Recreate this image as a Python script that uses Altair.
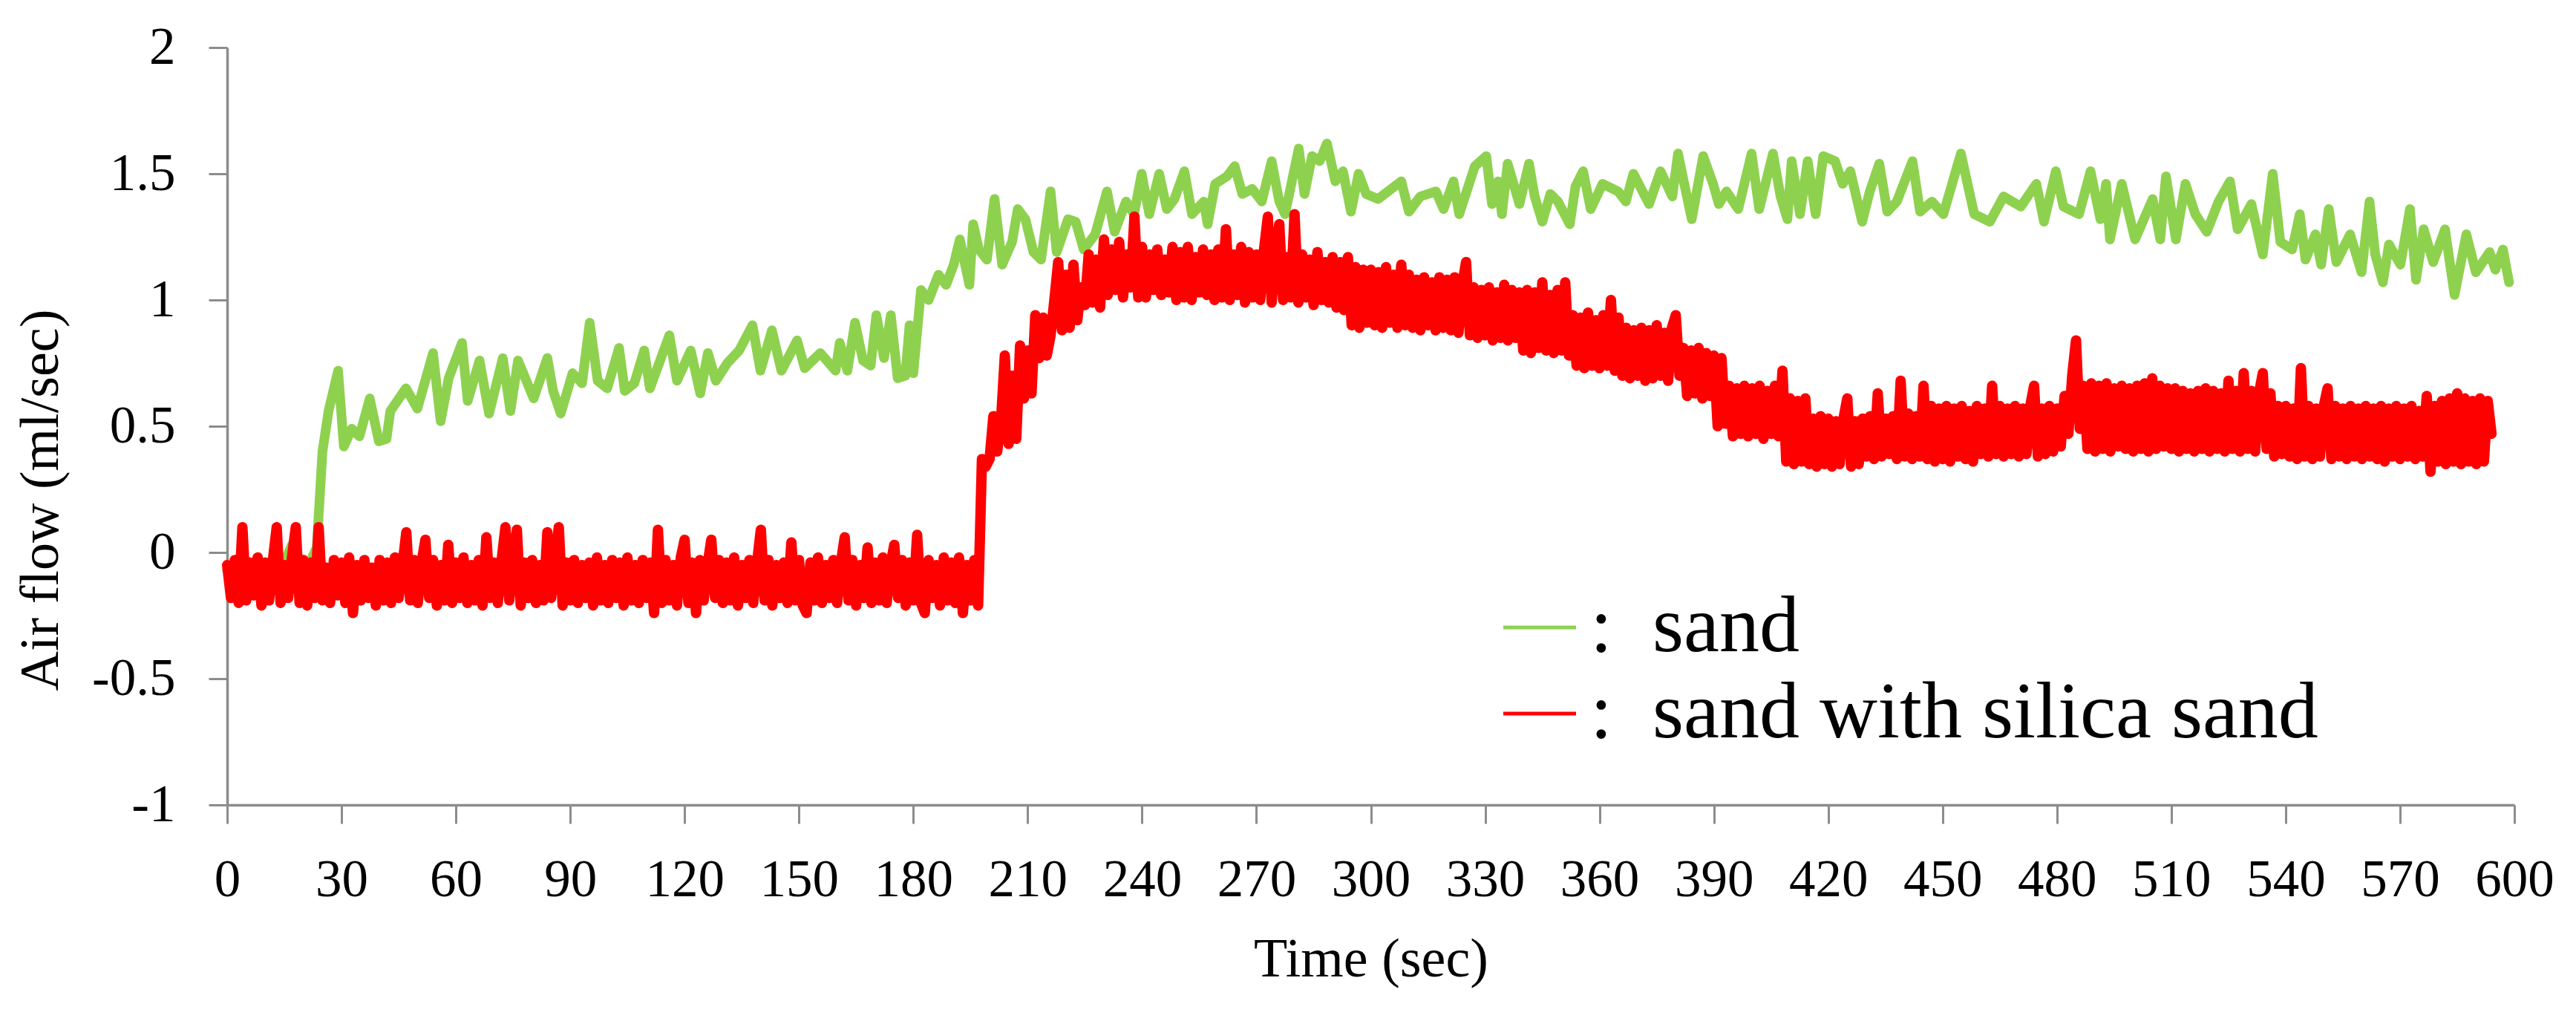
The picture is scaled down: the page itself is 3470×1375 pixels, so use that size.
import altair as alt
import pandas as pd

# ---------------- data ----------------
series_names = ["sand", "sand with silica sand"]
series_colors = ["#8ED14F", "#FF0000"]

x_ticks = [0, 30, 60, 90, 120, 150, 180, 210, 240, 270, 300, 330, 360, 390, 420, 450, 480, 510, 540, 570, 600]
y_ticks = [-1, -0.5, 0, 0.5, 1, 1.5, 2]

# "sand" (green) : time (sec) and air flow (ml/sec)
green_time = [
    0, 4, 8, 12, 15, 17, 19, 22, 23.5, 25.0, 26.6, 29.1, 30.6, 32.7, 34.7, 37.4, 39.8, 41.8, 42.8, 46.9,
    49.9, 54.0, 56.0, 58.1, 61.6, 63.1, 66.2, 68.7, 72.3, 74.3, 76.3, 80.4, 84.0, 85.5, 87.5, 90.6, 93.1, 95.1, 97.2, 99.7,
    102.8, 104.3, 106.8, 109.4, 110.9, 116.0, 118.0, 121.6, 124.1, 126.1, 128.2, 131.2, 134.3, 137.8, 139.9, 142.9, 145.4, 149.5, 151.5, 155.6,
    159.6, 160.7, 162.7, 164.7, 166.8, 168.8, 170.3, 172.3, 174.1, 175.9, 177.9, 179.0, 180.0, 182.0, 184.0, 186.6, 188.6, 190.6, 192.2, 194.7,
    195.7, 197.2, 199.3, 201.3, 203.3, 205.9, 207.4, 209.4, 211.5, 213.5, 216.0, 217.6, 220.6, 222.6, 224.7, 227.7, 230.8, 232.8, 235.8, 237.9,
    239.9, 241.9, 244.5, 246.5, 248.5, 251.1, 253.1, 256.2, 257.2, 259.2, 262.3, 264.3, 266.3, 268.9, 271.4, 274.0, 276.0, 277.5, 281.1, 282.6,
    284.6, 286.6, 288.5, 290.7, 292.7, 294.8, 296.8, 298.8, 301.9, 308.0, 310.0, 313.0, 317.1, 319.1, 321.7, 323.2, 327.3, 330.3, 331.8, 333.4,
    334.4, 335.9, 339.0, 341.5, 343.0, 345.0, 347.1, 349.1, 352.2, 353.7, 355.7, 357.7, 360.8, 364.9, 366.9, 368.9, 373.0, 376.0, 379.1, 380.6,
    382.1, 384.2, 387.2, 389.8, 391.3, 393.3, 396.4, 399.9, 401.9, 405.5, 407.5, 409.3, 410.4, 412.6, 414.6, 416.7, 418.7, 421.8, 423.8, 425.8,
    428.9, 430.9, 433.4, 435.5, 438.0, 442.1, 444.1, 447.2, 450.2, 454.8, 458.3, 462.4, 466.0, 470.5, 474.6, 476.6, 479.7, 481.7, 485.8, 488.8,
    491.4, 492.9, 493.9, 497.0, 500.5, 505.1, 507.1, 508.6, 511.2, 513.7, 516.3, 519.3, 522.4, 525.4, 527.4, 531.0, 534.0, 536.6, 538.6, 541.7,
    543.7, 545.2, 547.8, 549.3, 551.3, 553.3, 556.9, 559.9, 562.0, 563.5, 565.5, 567.1, 570.1, 572.6, 574.2, 576.2, 578.7, 581.8, 584.3, 587.4,
    589.9, 593.5, 595.0, 597.0, 598.6,
]
green_flow = [
    -0.07, -0.09, -0.06, -0.08, -0.04, 0.03, -0.05, -0.03, 0.02, 0.40, 0.56, 0.72, 0.42, 0.49, 0.46, 0.61, 0.44, 0.45, 0.56, 0.65,
    0.57, 0.79, 0.52, 0.69, 0.83, 0.60, 0.76, 0.55, 0.77, 0.56, 0.76, 0.61, 0.77, 0.64, 0.55, 0.71, 0.67, 0.91, 0.68, 0.65,
    0.81, 0.64, 0.67, 0.80, 0.65, 0.86, 0.68, 0.80, 0.63, 0.79, 0.68, 0.75, 0.80, 0.90, 0.72, 0.88, 0.72, 0.84, 0.73, 0.79,
    0.72, 0.83, 0.72, 0.91, 0.76, 0.74, 0.94, 0.77, 0.94, 0.69, 0.70, 0.90, 0.71, 1.04, 1.00, 1.10, 1.06, 1.14, 1.24, 1.06,
    1.30, 1.20, 1.16, 1.40, 1.14, 1.23, 1.36, 1.32, 1.19, 1.16, 1.43, 1.19, 1.32, 1.31, 1.20, 1.26, 1.43, 1.27, 1.39, 1.34,
    1.50, 1.34, 1.50, 1.36, 1.40, 1.51, 1.34, 1.39, 1.30, 1.46, 1.49, 1.53, 1.42, 1.44, 1.39, 1.55, 1.39, 1.34, 1.60, 1.42,
    1.57, 1.55, 1.62, 1.47, 1.51, 1.35, 1.50, 1.42, 1.40, 1.47, 1.35, 1.41, 1.43, 1.36, 1.47, 1.34, 1.53, 1.57, 1.38, 1.47,
    1.34, 1.54, 1.38, 1.54, 1.41, 1.31, 1.42, 1.39, 1.30, 1.45, 1.51, 1.36, 1.46, 1.43, 1.39, 1.50, 1.38, 1.51, 1.41, 1.58,
    1.47, 1.32, 1.57, 1.46, 1.38, 1.43, 1.36, 1.58, 1.36, 1.58, 1.41, 1.32, 1.55, 1.34, 1.55, 1.34, 1.57, 1.55, 1.46, 1.51,
    1.31, 1.43, 1.54, 1.35, 1.39, 1.55, 1.35, 1.39, 1.34, 1.58, 1.34, 1.31, 1.41, 1.37, 1.46, 1.31, 1.51, 1.37, 1.34, 1.51,
    1.32, 1.46, 1.24, 1.46, 1.24, 1.40, 1.24, 1.49, 1.24, 1.46, 1.34, 1.27, 1.39, 1.47, 1.28, 1.38, 1.18, 1.50, 1.23, 1.20,
    1.34, 1.16, 1.26, 1.14, 1.36, 1.15, 1.26, 1.11, 1.39, 1.18, 1.07, 1.22, 1.14, 1.36, 1.08, 1.28, 1.15, 1.28, 1.02, 1.26,
    1.11, 1.19, 1.12, 1.20, 1.07,
]

# "sand with silica sand" (red): air flow x100, one value per second,
# each inner list covers 10 seconds (t = 10*k ... 10*k+9)
red_flow_x100 = [
    [-5, -18, -3, -20, 10, -19, -4, -17, -2, -21],
    [-4, -19, -3, 10, -20, -5, -18, -2, 10, -20],
    [-3, -21, -4, -18, 10, -19, -6, -20, -3, -17],
    [-4, -20, -2, -24, -5, -19, -3, -18, -6, -21],
    [-3, -19, -4, -20, -2, -18, -5, 8, -19, -3],
    [-20, -4, 5, -18, -3, -21, -5, -19, 3, -20],
    [-4, -18, -2, -20, -5, -19, -3, -21, 6, -18],
    [-4, -20, -3, 10, -19, -2, 9, -21, -4, -18],
    [-3, -20, -5, -19, 8, -18, -3, 10, -21, -4],
    [-19, -3, -20, -5, -18, -4, -21, -2, -19, -5],
    [-20, -3, -18, -4, -21, -2, -19, -5, -20, -3],
    [-18, -4, -24, 9, -20, -3, -19, -5, -21, -2],
    [5, -20, -4, -24, -3, -19, -5, 5, -18, -3],
    [-20, -4, -19, -2, -21, -5, -18, -3, -20, -4],
    [9, -19, -3, -21, -5, -18, -4, -20, 4, -19],
    [-3, -21, -24, -4, -19, -2, -20, -5, -18, -3],
    [-20, -4, 6, -19, -3, -21, -5, -18, 2, -20],
    [-4, -19, -2, -20, -5, 3, -18, -3, -21, -4],
    [-19, 7, -20, -24, -3, -18, -5, -21, -2, -19],
    [-4, -20, -2, -24, -5, -19, -3, -21, 37, 34],
    [37, 54, 40, 52, 78, 43, 70, 45, 82, 61],
    [80, 63, 94, 77, 93, 78, 86, 100, 115, 88],
    [110, 89, 114, 92, 105, 98, 118, 99, 116, 97],
    [124, 102, 120, 104, 123, 101, 118, 105, 133, 101],
    [121, 101, 118, 104, 120, 102, 116, 103, 121, 100],
    [119, 101, 121, 100, 117, 103, 120, 102, 118, 100],
    [120, 101, 128, 100, 118, 102, 121, 99, 119, 101],
    [118, 100, 120, 133, 99, 119, 130, 100, 117, 101],
    [134, 99, 118, 101, 116, 98, 119, 100, 115, 99],
    [117, 97, 115, 96, 117, 90, 113, 89, 112, 91],
    [112, 90, 111, 89, 113, 91, 110, 89, 114, 90],
    [110, 89, 108, 88, 109, 90, 107, 88, 109, 89],
    [108, 88, 109, 87, 106, 115, 86, 105, 85, 104],
    [86, 105, 84, 103, 85, 106, 84, 104, 85, 103],
    [80, 104, 79, 103, 81, 107, 80, 102, 79, 104],
    [80, 107, 78, 94, 74, 93, 73, 95, 74, 92],
    [73, 94, 74, 100, 72, 93, 70, 89, 69, 88],
    [70, 89, 68, 88, 69, 90, 70, 87, 68, 89],
    [94, 70, 81, 62, 80, 63, 81, 61, 79, 62],
    [78, 50, 77, 51, 66, 46, 65, 47, 66, 46],
    [65, 47, 66, 45, 64, 47, 66, 46, 72, 36],
    [61, 35, 60, 36, 61, 35, 53, 34, 54, 35],
    [53, 34, 52, 35, 53, 61, 34, 52, 35, 53],
    [38, 54, 37, 63, 38, 53, 39, 54, 37, 68],
    [38, 55, 37, 54, 38, 66, 37, 58, 36, 57],
    [37, 58, 36, 57, 38, 58, 37, 56, 36, 58],
    [39, 57, 38, 66, 39, 58, 38, 57, 39, 58],
    [38, 57, 39, 58, 66, 38, 57, 39, 58, 40],
    [57, 42, 62, 47, 70, 84, 49, 66, 41, 67],
    [40, 66, 41, 67, 40, 65, 42, 66, 41, 65],
    [40, 66, 41, 67, 40, 69, 41, 66, 42, 65],
    [41, 65, 40, 64, 41, 63, 40, 64, 41, 65],
    [40, 64, 41, 63, 40, 68, 41, 64, 40, 71],
    [41, 64, 40, 63, 71, 41, 63, 38, 58, 39],
    [58, 38, 57, 37, 73, 38, 58, 37, 57, 38],
    [58, 65, 37, 58, 38, 57, 37, 58, 38, 57],
    [37, 58, 38, 57, 37, 58, 36, 57, 38, 58],
    [37, 57, 38, 58, 37, 56, 38, 62, 32, 58],
    [36, 60, 35, 61, 36, 63, 35, 61, 36, 60],
    [35, 61, 36, 60, 47],
]

# ---------------- tables ----------------
green_df = pd.DataFrame({"time": green_time, "flow": green_flow, "series": series_names[0]})

red_rows = []
for k, chunk in enumerate(red_flow_x100):
    for i, v in enumerate(chunk):
        red_rows.append({"time": 10 * k + i, "flow": v / 100.0, "series": series_names[1]})
red_df = pd.DataFrame(red_rows)

# ---------------- chart ----------------
FONT = "Liberation Serif"
AXIS_GRAY = "#8c8c8c"

x_enc = alt.X(
    "time:Q",
    scale=alt.Scale(domain=[0, 600], nice=False, zero=False),
    axis=alt.Axis(
        values=x_ticks, format="d", title="Time (sec)",
        grid=False, labelFlush=False, labelOverlap=False,
        domainColor=AXIS_GRAY, domainWidth=3.5,
        tickColor=AXIS_GRAY, tickWidth=3, tickSize=25,
        labelFont=FONT, labelFontSize=71, labelColor="black", labelPadding=41,
        titleFont=FONT, titleFontSize=74, titleFontWeight="normal", titleColor="black",
        titleY=208, titleBaseline="middle",
    ),
)
y_enc = alt.Y(
    "flow:Q",
    scale=alt.Scale(domain=[-1, 2], nice=False, zero=False),
    axis=alt.Axis(
        values=y_ticks, labelExpr="'' + datum.value", title="Air flow (ml/sec)",
        grid=False, labelFlush=False, labelOverlap=False,
        domainColor=AXIS_GRAY, domainWidth=3.5,
        tickColor=AXIS_GRAY, tickWidth=3, tickSize=25,
        labelFont=FONT, labelFontSize=71, labelColor="black", labelPadding=45,
        titleFont=FONT, titleFontSize=74, titleFontWeight="normal", titleColor="black",
        titleX=-251, titleY=609, titleBaseline="middle",
    ),
)
color_enc = alt.Color(
    "series:N",
    scale=alt.Scale(domain=series_names, range=series_colors),
    legend=alt.Legend(
        title=None, orient="none", legendX=1714, legendY=727, padding=0,
        symbolType="stroke", symbolSize=9604, symbolStrokeWidth=5,
        labelFont=FONT, labelFontSize=108, labelColor="black",
        labelOffset=14, rowPadding=8, labelLimit=3000,
        labelExpr="':\u00a0\u00a0' + datum.label",
    ),
)

green_line = alt.Chart(green_df).mark_line(
    strokeWidth=13, strokeJoin="round", strokeCap="round"
).encode(x=x_enc, y=y_enc, color=color_enc)

red_line = alt.Chart(red_df).mark_line(
    strokeWidth=14, strokeJoin="round", strokeCap="round"
).encode(x=x_enc, y=y_enc, color=color_enc)

chart = (
    alt.layer(green_line, red_line)
    .properties(
        width=3081,
        height=1020,
        autosize=alt.AutoSizeParams(type="none"),
        padding={"left": 298, "top": 56, "right": 75, "bottom": 283},
        background="white",
    )
    .configure_view(stroke=None)
)

chart.save("out.html", embed_options={"renderer": "svg", "actions": False})
